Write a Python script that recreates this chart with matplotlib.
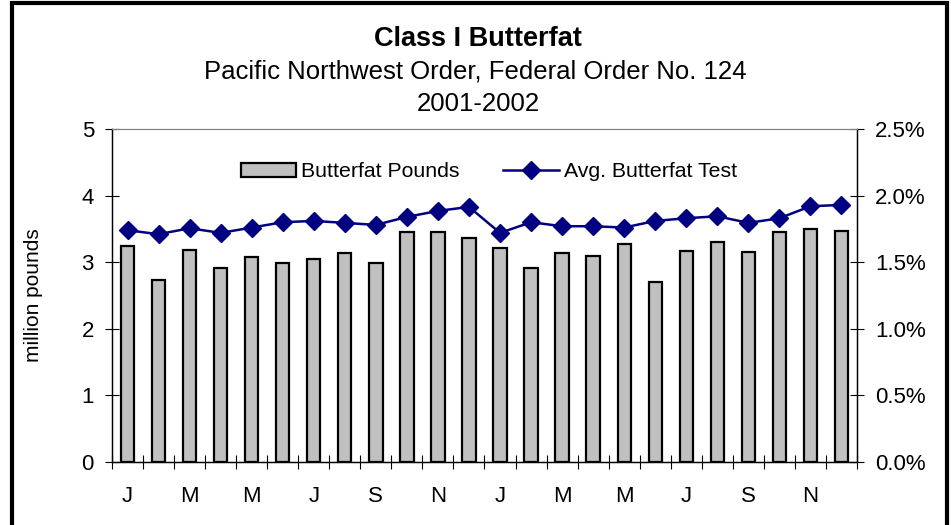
import matplotlib.pyplot as plt
from matplotlib.patches import Rectangle
from matplotlib.ticker import FuncFormatter

plt.rcParams['font.family'] = ['Liberation Sans', 'DejaVu Sans']

# months Jan 2001 .. Dec 2002
months = ["J", "F", "M", "A", "M", "J", "J", "A", "S", "O", "N", "D",
          "J", "F", "M", "A", "M", "J", "J", "A", "S", "O", "N", "D"]
# million pounds
pounds = [3.25, 2.73, 3.19, 2.92, 3.08, 2.99, 3.05, 3.14, 2.99, 3.46, 3.46, 3.36,
          3.22, 2.91, 3.14, 3.09, 3.27, 2.71, 3.17, 3.31, 3.15, 3.45, 3.50, 3.47]
# avg butterfat test, percent
test = [1.74, 1.71, 1.755, 1.72, 1.76, 1.80, 1.81, 1.795, 1.78, 1.84, 1.885, 1.915,
        1.72, 1.80, 1.77, 1.77, 1.76, 1.81, 1.83, 1.845, 1.795, 1.83, 1.92, 1.93]

x = list(range(len(months)))

fig = plt.figure(figsize=(9.51, 5.25), dpi=100)
ax = fig.add_axes([112/951, 1 - 462/525, 745/951, 333/525])
ax2 = ax.twinx()

bars = ax.bar(x, pounds, width=0.43, color="#C0C0C0", edgecolor="black",
              linewidth=1.6, label="Butterfat Pounds", zorder=2)
line, = ax2.plot(x, test, color="#000080", lw=1.8, marker="D", markersize=9,
                 label="Avg. Butterfat Test", zorder=3)

ax.set_xlim(-0.5, len(months) - 0.5)
ax.set_ylim(0, 5)
ax2.set_ylim(0, 2.5)
ax.set_yticks([0, 1, 2, 3, 4, 5])
ax2.set_yticks([0, 0.5, 1.0, 1.5, 2.0, 2.5])
ax2.yaxis.set_major_formatter(FuncFormatter(lambda v, p: "%.1f%%" % v))

ax.set_xticks(x[::2])
ax.set_xticklabels(months[::2])
ax.set_xticks([i - 0.5 for i in range(len(months) + 1)], minor=True)
ax.tick_params(axis="x", which="major", length=0, pad=17, labelsize=16)
ax.tick_params(axis="x", which="minor", length=10, direction="inout", width=0.8)
ax.tick_params(axis="y", length=10, direction="inout", width=0.8, pad=8, labelsize=16)
ax2.tick_params(axis="y", length=10, direction="inout", width=0.8, pad=8, labelsize=16)

for a in (ax, ax2):
    a.spines["top"].set_color("#808080")
    for s in ("left", "right", "bottom"):
        a.spines[s].set_linewidth(0.9)

ax.set_ylabel("million pounds", fontsize=15)
ax.yaxis.set_label_coords(-0.092, 0.5)

ax.legend([bars, line], ["Butterfat Pounds", "Avg. Butterfat Test"], ncol=2,
          frameon=False, fontsize=15.3, loc="center", bbox_to_anchor=(0.506, 0.871),
          handlelength=2.6, handletextpad=0.24, columnspacing=2.05)

fig.text(0.503, 1 - 39/525, "Class I Butterfat", ha="center", va="center",
         fontsize=19.5, fontweight="bold")
fig.text(0.5, 1 - 71/525, "Pacific Northwest Order, Federal Order No. 124",
         ha="center", va="center", fontsize=18.5)
fig.text(0.503, 1 - 104/525, "2001-2002", ha="center", va="center", fontsize=18.5)

fig.patches.append(Rectangle((12/951, -0.1), 935/951, 1.1 - 3/525,
                             transform=fig.transFigure, fill=False,
                             edgecolor="black", linewidth=3))

fig.savefig("out.png", dpi=100)
